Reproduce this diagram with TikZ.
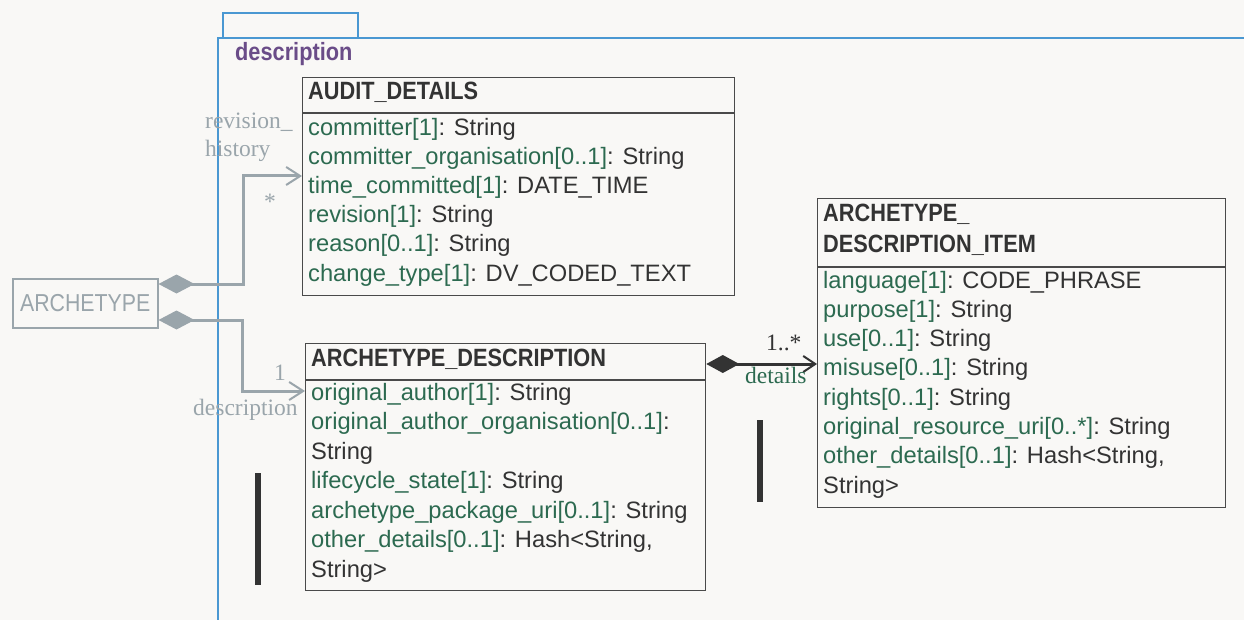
\documentclass[tikz,border=0pt]{standalone}
\usepackage{fontspec}
\setmainfont{Liberation Sans}
\newfontfamily\hdrfont[FakeStretch=0.87]{Liberation Sans}
\newfontfamily\seriffont{Liberation Serif}
\usetikzlibrary{arrows.meta}
\definecolor{bgc}{HTML}{F9F8F6}
\definecolor{frameblue}{HTML}{4A98D2}
\definecolor{pkgpurple}{HTML}{6A4C88}
\definecolor{conngray}{HTML}{9AA5AB}
\definecolor{attrgreen}{HTML}{2C6A50}
\definecolor{txtdark}{HTML}{333333}
\definecolor{boxline}{HTML}{4A4A4A}
\newcommand{\atl}[2]{\textcolor{attrgreen}{#1}\textcolor{txtdark}{#2}}
\tikzset{
  classbox/.style={draw=boxline, line width=1.3pt, anchor=north west, inner sep=0pt, fill=none},
  sepline/.style={draw=boxline, line width=1.3pt},
  attr/.style={anchor=base west, inner sep=0pt, font=\fontsize{23.7}{28}\selectfont, text=txtdark},
  hdr/.style={anchor=base west, inner sep=0pt, font=\hdrfont\bfseries\fontsize{25}{29}\selectfont, text=txtdark},
  role/.style={anchor=base west, inner sep=0pt, font=\seriffont\fontsize{23.5}{28}\selectfont, text=conngray},
  assoc/.style={draw=conngray, line width=3pt, {Diamond[length=36pt,width=19pt,fill=conngray]}-{Straight Barb[length=14pt,width=18pt,line width=2pt]}},
  assocdark/.style={draw=txtdark, line width=3pt, {Diamond[length=33pt,width=18pt,fill=txtdark]}-{Straight Barb[length=12pt,width=16pt,line width=2pt]}},
  bar/.style={draw=txtdark, line width=6pt},
  pkgline/.style={draw=frameblue, line width=2.2pt}
}
\begin{document}
\begin{tikzpicture}[x=1pt,y=-1pt]
\useasboundingbox (0,0) rectangle (1244,620);
\fill[bgc] (0,0) rectangle (1244,620);
% package frame
\draw[pkgline] (223,38) -- (223,13) -- (358,13) -- (358,38);
\draw[pkgline] (1250,38) -- (218,38) -- (218,630);
\node[anchor=base west, inner sep=0pt, text=pkgpurple, font=\hdrfont\bfseries\fontsize{25}{30}\selectfont] (pkgname) at (235,61) {description};

% ARCHETYPE
\node[draw=conngray, line width=1.5pt, anchor=north west, minimum width=145pt, minimum height=49pt, inner sep=0pt, text=conngray, font=\hdrfont\fontsize{24.5}{28}\selectfont] (arch) at (12,278) {ARCHETYPE};

% AUDIT_DETAILS
\node[classbox, minimum width=432pt, minimum height=218pt] (audit) at (302,77) {};
\draw[sepline] (audit.west |- 0,113) -- (audit.east |- 0,113);
\node[hdr] (auditH) at (308,100) {AUDIT\_DETAILS};
\node[attr] (au1) at (308,136) {\atl{committer[1]}{: String}};
\node[attr] (au2) at (308,165) {\atl{committer\_organisation[0..1]}{: String}};
\node[attr] (au3) at (308,194) {\atl{time\_committed[1]}{: DATE\_TIME}};
\node[attr] (au4) at (308,223) {\atl{revision[1]}{: String}};
\node[attr] (au5) at (308,252) {\atl{reason[0..1]}{: String}};
\node[attr] (au6) at (308,281) {\atl{change\_type[1]}{: DV\_CODED\_TEXT}};

% ARCHETYPE_DESCRIPTION
\node[classbox, minimum width=400pt, minimum height=247pt] (desc) at (305,343) {};
\draw[sepline] (desc.west |- 0,380) -- (desc.east |- 0,380);
\node[hdr] (descH) at (311,366) {ARCHETYPE\_DESCRIPTION};
\node[attr] (de1) at (311,400) {\atl{original\_author[1]}{: String}};
\node[attr] (de2) at (311,429.5) {\atl{original\_author\_organisation[0..1]}{:}};
\node[attr] (de3) at (311,459) {String};
\node[attr] (de4) at (311,488.5) {\atl{lifecycle\_state[1]}{: String}};
\node[attr] (de5) at (311,518) {\atl{archetype\_package\_uri[0..1]}{: String}};
\node[attr] (de6) at (311,547.5) {\atl{other\_details[0..1]}{: Hash<String,}};
\node[attr] (de7) at (311,577) {String>};

% ARCHETYPE_DESCRIPTION_ITEM
\node[classbox, minimum width=408pt, minimum height=309pt] (item) at (817,198) {};
\draw[sepline] (item.west |- 0,267) -- (item.east |- 0,267);
\node[hdr] (itemH1) at (823,222) {ARCHETYPE\_};
\node[hdr] (itemH2) at (823,253) {DESCRIPTION\_ITEM};
\node[attr] (it1) at (823,288) {\atl{language[1]}{: CODE\_PHRASE}};
\node[attr] (it2) at (823,317.3) {\atl{purpose[1]}{: String}};
\node[attr] (it3) at (823,346.6) {\atl{use[0..1]}{: String}};
\node[attr] (it4) at (823,375.9) {\atl{misuse[0..1]}{: String}};
\node[attr] (it5) at (823,405.2) {\atl{rights[0..1]}{: String}};
\node[attr] (it6) at (823,434.5) {\atl{original\_resource\_uri[0..*]}{: String}};
\node[attr] (it7) at (823,463.8) {\atl{other\_details[0..1]}{: Hash<String,}};
\node[attr] (it8) at (823,493.1) {String>};

% connectors
\draw[assoc] (arch.east |- 0,284) -| (243,176) -- (audit.west |- 0,176);
\draw[assoc] (arch.east |- 0,320) -| (242,391) -- (desc.west |- 0,391);
\draw[assocdark] (desc.east |- 0,364) -- (item.west |- 0,364);

% role labels
\node[role] (r1a) at (205,129) {revision\_};
\node[role] (r1b) at (205,157) {history};
\node[role, anchor=base] (m1) at (270,210) {*};
\node[role, anchor=base] (m2) at (280,380) {1};
\node[role] (r2) at (193,415) {description};
\node[role, text=txtdark] (m3) at (766,350) {1..*};
\node[role, text=attrgreen] (r3) at (745,383) {details};

% bars
\draw[bar] (258,473) -- (258,585);
\draw[bar] (760,420) -- (760,502);
\end{tikzpicture}
\end{document}
